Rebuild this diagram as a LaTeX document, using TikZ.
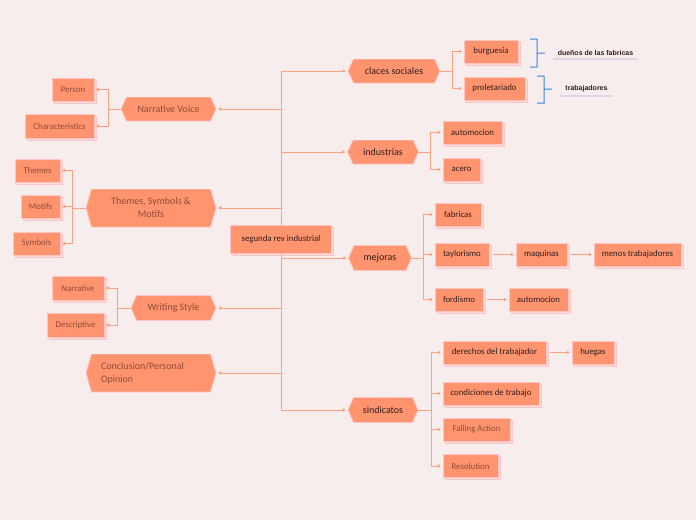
\documentclass[tikz,border=0pt]{standalone}
\usepackage{fontspec}
\setmainfont{Carlito}
\newfontfamily\notefont{Liberation Sans}
\usetikzlibrary{arrows.meta,shadows}
\definecolor{paper}{HTML}{F7EDED}
\definecolor{salmon}{HTML}{FF946E}
\definecolor{blush}{HTML}{FFC4C4}
\definecolor{wire}{HTML}{FFA080}
\definecolor{ink}{HTML}{2E1E1E}
\definecolor{rust}{HTML}{8E4A3A}
\definecolor{callout}{HTML}{3A86E0}
\definecolor{lilac}{HTML}{B0A8E0}
\begin{document}
\begin{tikzpicture}[x=1pt,y=-1pt,
	topic/.style={fill=salmon,draw=blush,line width=0.6pt,inner sep=0pt,minimum height=23pt,text=ink,font=\fontsize{8.8}{10}\selectfont,
		copy shadow={shadow xshift=2pt,shadow yshift=-2pt,fill=blush!45!paper,draw=blush}},
	subtopic/.style={topic,text=rust},
	branch/.style={inner sep=0pt,fill=paper,text=ink,align=center,font=\fontsize{10}{13}\selectfont,
		path picture={\fill[salmon,draw=blush,line width=0.8pt] (path picture bounding box.west) -- ([xshift=5.5pt]path picture bounding box.north west) -- ([xshift=-5.5pt]path picture bounding box.north east) -- (path picture bounding box.east) -- ([xshift=-5.5pt]path picture bounding box.south east) -- ([xshift=5.5pt]path picture bounding box.south west) -- cycle;}},
	leftbranch/.style={branch,text=rust},
	link/.style={draw=wire,line width=0.8pt,-{Circle[length=3pt]},shorten >=2.5pt},
	chain/.style={link,shorten <=4pt},
	note/.style={inner sep=0pt,text=ink,font=\notefont\bfseries\fontsize{7}{8}\selectfont},
	brace/.style={fill=callout,draw=none},
	underline/.style={fill=lilac,draw=none}]
	\useasboundingbox[fill=paper] (0,0) rectangle (696,520);
	\node [topic,minimum width=101pt,minimum height=28pt] (rev) at (281,239) {segunda rev industrial};
	\node [branch,minimum width=92pt,minimum height=24pt] (clases) at (394,71) {claces sociales};
	\node [branch,minimum width=71pt,minimum height=24pt] (indus) at (383,152) {industrias};
	\node [branch,minimum width=63pt,minimum height=25pt] (mejor) at (380,258) {mejoras};
	\node [branch,minimum width=70pt,minimum height=25pt] (sindi) at (383,410) {sindicatos};
	\node [leftbranch,minimum width=95pt,minimum height=24pt] (voice) at (168.5,109) {Narrative Voice};
	\node [leftbranch,minimum width=130pt,minimum height=38pt] (themes) at (151,208) {Themes, Symbols \&\\Motifs};
	\node [leftbranch,minimum width=85pt,minimum height=25pt] (wstyle) at (173.5,308) {Writing Style};
	\node [leftbranch,minimum width=130pt,minimum height=38pt,text width=100pt,align=left] (opinion) at (151,373) {Conclusion/Personal\\Opinion};
	\node [topic,minimum width=54pt] (burg) at (491,51.5) {burguesia};
	\node [topic,minimum width=61pt] (prole) at (494.5,88.5) {proletariado};
	\node [topic,minimum width=59pt] (autoA) at (472.5,132.5) {automocion};
	\node [topic,minimum width=37pt] (acero) at (461.5,169.5) {acero};
	\node [topic,minimum width=46pt] (fabri) at (458,214.5) {fabricas};
	\node [topic,minimum width=54pt] (taylor) at (462,254.5) {taylorismo};
	\node [topic,minimum width=48pt] (ford) at (459,299.5) {fordismo};
	\node [topic,minimum width=51pt] (maqui) at (541.5,254.5) {maquinas};
	\node [topic,minimum width=87pt] (menos) at (637.5,254.5) {menos trabajadores};
	\node [topic,minimum width=59pt] (autoB) at (538.5,299.5) {automocion};
	\node [topic,minimum width=103pt] (derech) at (494.5,352.5) {derechos del trabajador};
	\node [topic,minimum width=42pt] (huegas) at (593,352.5) {huegas};
	\node [topic,minimum width=96pt] (condic) at (491,393.5) {condiciones de trabajo};
	\node [subtopic,minimum width=67pt] (falling) at (476.5,429.5) {Falling Action};
	\node [subtopic,minimum width=55pt] (resol) at (470.5,466) {Resolution};
	\node [subtopic,minimum width=42pt] (person) at (73,89.5) {Person};
	\node [subtopic,minimum width=69pt,minimum height=24pt] (charac) at (59.5,126) {Characteristics};
	\node [subtopic,minimum width=45pt] (themesL) at (37.5,170.5) {Themes};
	\node [subtopic,minimum width=39pt] (motifs) at (40.5,206.5) {Motifs};
	\node [subtopic,minimum width=47pt] (symb) at (36.5,243.5) {Symbols};
	\node [subtopic,minimum width=52pt,minimum height=24pt] (narr) at (78,288) {Narrative};
	\node [subtopic,minimum width=57pt,minimum height=24pt] (descr) at (75.5,325) {Descriptive};
	\node [note] (owners) at (595.5,53) {dueños de las fabricas};
	\node [note] (workers) at (586.5,89) {trabajadores};
	\draw [link] (rev.north) |- (clases.west);
	\draw [link] (rev.north) |- (indus.west);
	\draw [link] (rev.south) |- (mejor.west);
	\draw [link] (rev.south) |- (sindi.west);
	\draw [link] (rev.north) |- (voice.east);
	\draw [link] (rev.north) |- (themes.east);
	\draw [link] (rev.south) |- (wstyle.east);
	\draw [link] (rev.south) |- (opinion.east);
	\draw [link] (clases.east) -- ++(12,0) |- (burg.west);
	\draw [link] (clases.east) -- ++(12,0) |- (prole.west);
	\draw [link] (indus.east) -- ++(12,0) |- (autoA.west);
	\draw [link] (indus.east) -- ++(12,0) |- (acero.west);
	\draw [link] (mejor.east) -- ++(12,0) |- (fabri.west);
	\draw [link] (mejor.east) -- ++(12,0) |- (taylor.west);
	\draw [link] (mejor.east) -- ++(12,0) |- (ford.west);
	\draw [link] (sindi.east) -- ++(13,0) |- (derech.west);
	\draw [link] (sindi.east) -- ++(13,0) |- (condic.west);
	\draw [link] (sindi.east) -- ++(13,0) |- (falling.west);
	\draw [link] (sindi.east) -- ++(13,0) |- (resol.west);
	\draw [link] (voice.west) -- ++(-12,0) |- (person.east);
	\draw [link] (voice.west) -- ++(-12,0) |- (charac.east);
	\draw [link] (themes.west) -- ++(-13,0) |- (themesL.east);
	\draw [link] (themes.west) -- ++(-13,0) |- (motifs.east);
	\draw [link] (themes.west) -- ++(-13,0) |- (symb.east);
	\draw [link] (wstyle.west) -- ++(-13,0) |- (narr.east);
	\draw [link] (wstyle.west) -- ++(-13,0) |- (descr.east);
	\draw [chain] (taylor.east) -- (maqui.west);
	\draw [chain] (maqui.east) -- (menos.west);
	\draw [chain] (ford.east) -- (autoB.west);
	\draw [chain] (derech.east) -- (huegas.west);
	\fill [underline] (553,58.6) rectangle (638,59.4) (560,95.6) rectangle (613,96.4);
	\fill [brace] (530,38.5) rectangle (537.5,39.5) (536.5,38.5) rectangle (537.5,67.5) (530,66.5) rectangle (537.5,67.5) (537,52.5) rectangle (545,53.5);
	\fill [brace] (537,75.5) rectangle (544.5,76.5) (543.5,75.5) rectangle (544.5,103.5) (537,102.5) rectangle (544.5,103.5) (544,88.5) rectangle (552,89.5);
\end{tikzpicture}
\end{document}
